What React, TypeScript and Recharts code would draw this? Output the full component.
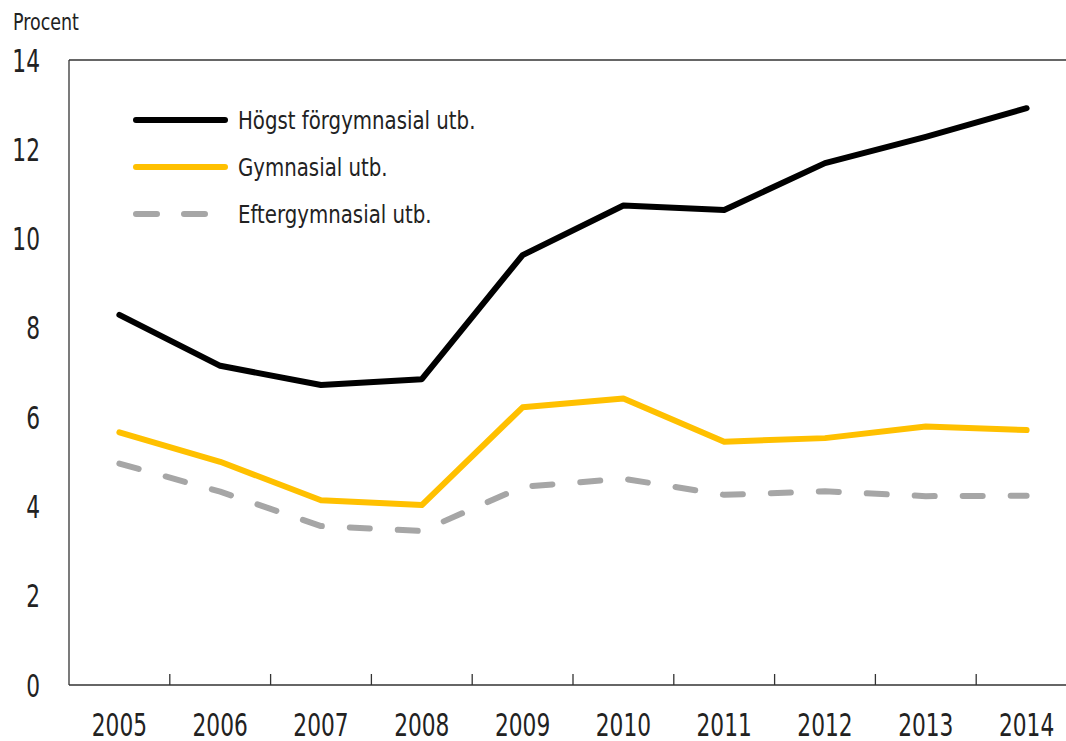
import React from 'react';
import { LineChart, Line, XAxis, YAxis, ReferenceLine } from 'recharts';

const years = ['2005', '2006', '2007', '2008', '2009', '2010', '2011', '2012', '2013', '2014'];
const hogst = [8.29, 7.15, 6.72, 6.85, 9.63, 10.74, 10.64, 11.69, 12.28, 12.92];
const gymnasial = [5.66, 5.0, 4.14, 4.03, 6.22, 6.42, 5.45, 5.53, 5.79, 5.71];
const efter = [4.96, 4.33, 3.56, 3.45, 4.44, 4.62, 4.26, 4.34, 4.23, 4.24];
const yTicks = [0, 2, 4, 6, 8, 10, 12, 14];
const seriesNames = ['Högst förgymnasial utb.', 'Gymnasial utb.', 'Eftergymnasial utb.'];
const yLabel = 'Procent';

const FONT = '"DejaVu Sans", sans-serif';
const TXT = '#222';

const series = [
  { key: 'hogst', name: seriesNames[0], color: '#000000', dash: undefined as string | undefined },
  { key: 'gymnasial', name: seriesNames[1], color: '#FFC000', dash: undefined as string | undefined },
  { key: 'efter', name: seriesNames[2], color: '#A6A6A6', dash: '20 28' },
];

const data = years.map((y, i) => ({
  x: i + 0.5,
  year: y,
  hogst: hogst[i],
  gymnasial: gymnasial[i],
  efter: efter[i],
}));

const xTicks: number[] = [];
for (let i = 0; i < years.length; i++) {
  xTicks.push(i + 0.5);
  if (i < years.length - 1) xTicks.push(i + 1);
}

const XTick = (props: any) => {
  const { x, y, payload } = props;
  const v = payload.value as number;
  if (Number.isInteger(v)) {
    return <line x1={x} x2={x} y1={y} y2={y - 11} stroke="#333" strokeWidth={1.3} />;
  }
  const label = years[Math.floor(v)];
  return (
    <text
      transform={`translate(${x},${y + 51}) scale(0.69,1)`}
      textAnchor="middle"
      fontFamily={FONT}
      fontSize={31.5}
      fill={TXT}
    >
      {label}
    </text>
  );
};

const YTick = (props: any) => {
  const { x, y, payload } = props;
  return (
    <text
      transform={`translate(${x},${y + 11.5}) scale(0.69,1)`}
      textAnchor="end"
      fontFamily={FONT}
      fontSize={31.5}
      fill={TXT}
    >
      {payload.value}
    </text>
  );
};

const LegendBox = () => (
  <svg width={600} height={260} style={{ position: 'absolute', left: 0, top: 0 }}>
    <text transform="translate(13,30) scale(0.75,1)" fontFamily={FONT} fontSize={23.3} fill={TXT}>
      {yLabel}
    </text>
    {series.map((s, i) => {
      const cy = 120 + i * 47;
      return (
        <g key={s.key}>
          <line
            x1={136}
            x2={225}
            y1={cy}
            y2={cy}
            stroke={s.color}
            strokeWidth={6}
            strokeLinecap="round"
            strokeDasharray={s.dash ? '21 27' : undefined}
          />
          <text
            transform={`translate(238,${cy + 9}) scale(0.8,1)`}
            fontFamily={FONT}
            fontSize={24.7}
            fill={TXT}
          >
            {s.name}
          </text>
        </g>
      );
    })}
  </svg>
);

export default function App() {
  return (
    <div style={{ position: 'absolute', left: 0, top: 0, width: 1066, height: 741, overflow: 'hidden', background: '#fff' }}>
      <LineChart width={1090} height={741} data={data} margin={{ top: 60, right: 13, bottom: 0, left: 0 }}>
        <XAxis
          dataKey="x"
          type="number"
          domain={[0, 10]}
          ticks={xTicks}
          interval={0}
          tickLine={false}
          tickSize={0}
          tickMargin={0}
          height={56}
          axisLine={{ stroke: '#333', strokeWidth: 1.3 }}
          tick={<XTick />}
        />
        <YAxis
          domain={[0, 14]}
          ticks={yTicks}
          interval={0}
          width={69}
          tickLine={false}
          tickSize={0}
          tickMargin={29}
          axisLine={{ stroke: '#333', strokeWidth: 1.3 }}
          tick={<YTick />}
        />
        <ReferenceLine y={14} stroke="#333" strokeWidth={1.3} />
        {series.map((s) => (
          <Line
            key={s.key}
            dataKey={s.key}
            name={s.name}
            type="linear"
            stroke={s.color}
            strokeWidth={6}
            strokeDasharray={s.dash}
            strokeLinecap="round"
            strokeLinejoin="round"
            dot={false}
            activeDot={false}
            isAnimationActive={false}
          />
        ))}
      </LineChart>
      <LegendBox />
    </div>
  );
}
